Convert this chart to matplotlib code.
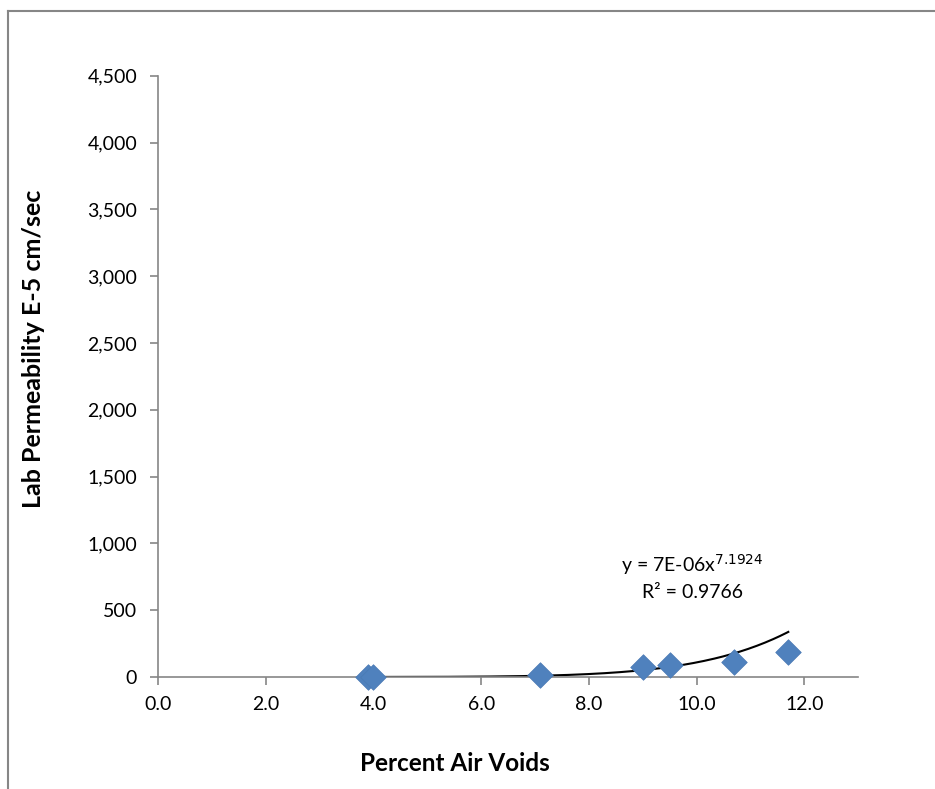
import numpy as np
import matplotlib.pyplot as plt
from matplotlib.lines import Line2D
from matplotlib.ticker import FuncFormatter

plt.rcParams['font.family'] = ['Lato', 'DejaVu Sans']

# measured points
air_voids = [3.9, 4.0, 7.1, 9.0, 9.5, 10.7, 11.7]
permeability = [3, 3, 12, 75, 88, 115, 185]

# power trendline shown on chart: y = 7E-06 x^7.1924
coef_a = 7e-06
coef_b = 7.1924

fig = plt.figure(figsize=(9.35, 7.89), dpi=100)
ax = fig.add_axes([0.169, 0.142, 0.749, 0.762])

xs = np.linspace(min(air_voids), max(air_voids), 200)
ax.plot(xs, coef_a * xs ** coef_b, color='black', lw=1.5, zorder=2)
ax.scatter(air_voids, permeability, marker='D', s=170, color='#4f81bd',
           edgecolors='#4a7ab4', linewidths=0.5, zorder=3, clip_on=False)

ax.set_xlim(0, 13)
ax.set_ylim(0, 4500)
ax.set_xticks(np.arange(0, 13, 2))
ax.set_yticks(np.arange(0, 4501, 500))
ax.xaxis.set_major_formatter(FuncFormatter(lambda v, p: f'{v:.1f}'))
ax.yaxis.set_major_formatter(FuncFormatter(lambda v, p: f'{v:,.0f}'))

for s in ['top', 'right']:
    ax.spines[s].set_visible(False)
for s in ['left', 'bottom']:
    ax.spines[s].set_color('#868686')
    ax.spines[s].set_linewidth(1.2)
ax.tick_params(axis='both', direction='out', length=6, color='#868686',
               width=1.2, labelsize=14)
ax.tick_params(axis='y', pad=9)
ax.tick_params(axis='x', pad=8)

ax.set_xlabel('Percent Air Voids', fontsize=17.5, fontweight='bold')
ax.xaxis.set_label_coords(0.424, -0.125)
ax.set_ylabel('Lab Permeability E-5 cm/sec', fontsize=18, fontweight='bold')
ax.yaxis.set_label_coords(-0.161, 0.546)

ax.text(9.92, 843, r'y = 7E-06x$^{7.1924}$', fontsize=14, ha='center', va='center')
ax.text(9.92, 634, 'R² = 0.9766', fontsize=14, ha='center', va='center')

# outer chart frame (top and left only visible)
fig.add_artist(Line2D([8 / 935, 1], [1 - 11 / 789, 1 - 11 / 789],
                      transform=fig.transFigure, color='#868686', lw=1.5))
fig.add_artist(Line2D([8 / 935, 8 / 935], [0, 1 - 11 / 789],
                      transform=fig.transFigure, color='#868686', lw=1.5))

fig.savefig('out.png', dpi=100)
